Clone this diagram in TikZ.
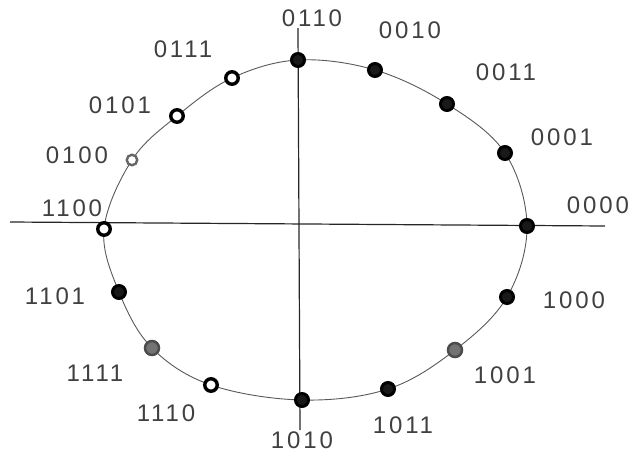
\documentclass[tikz,border=0pt]{standalone}
\usepackage{fontspec}
\setmainfont{Liberation Sans}
\begin{document}
\begin{tikzpicture}[x=1pt,y=-1pt,
  dotf/.style={circle,draw=black,line width=3pt,fill=black!90,inner sep=0pt,minimum size=13pt},
  doth/.style={circle,draw=black,line width=3.4pt,fill=white,inner sep=0pt,minimum size=12.5pt},
  dotg/.style={circle,draw=black!70,line width=2.5pt,fill=black!55,inner sep=0pt,minimum size=14pt},
  dotl/.style={circle,draw=black!60,line width=2.4pt,fill=white,inner sep=0pt,minimum size=10.5pt},
  lab/.style={font=\fontsize{24}{24}\selectfont\addfontfeatures{LetterSpace=12},text=black!75,inner sep=0pt},
  ring/.style={draw=black!65,line width=0.9pt},
  axis/.style={draw=black!85,line width=1.2pt}]
\useasboundingbox (0,0) rectangle (633,461);
% axes
\coordinate (hl) at (10,222);
\coordinate (hr) at (605,226);
\coordinate (vt) at (298,28);
\coordinate (vb) at (300,430);
\draw[axis] (hl) -- (hr);
\draw[axis] (vt) -- (vb);
% ring
\draw[ring] plot[smooth cycle,tension=0.6] coordinates {
 (298,60) (375,70) (447,104) (505,153) (527,226) (507,297) (455,350) (388,389)
 (302,400) (211,385) (152,348) (119,292) (104,229) (132,160) (177,116) (232,78)};
% dots
\node[dotf] (p0110) at (298,60) {};
\node[dotf] (p0010) at (375,70) {};
\node[dotf] (p0011) at (447,104) {};
\node[dotf] (p0001) at (505,153) {};
\node[dotf] (p0000) at (527,226) {};
\node[dotf] (p1000) at (507,297) {};
\node[dotg] (p1001) at (455,350) {};
\node[dotf] (p1011) at (388,389) {};
\node[dotf] (p1010) at (302,400) {};
\node[doth] (p1110) at (211,385) {};
\node[dotg] (p1111) at (152,348) {};
\node[dotf] (p1101) at (119,292) {};
\node[doth] (p1100) at (104,229) {};
\node[dotl] (p0100) at (132,160) {};
\node[doth] (p0101) at (177,116) {};
\node[doth] (p0111) at (232,78) {};
% labels
\node[lab] (l0110) at (312,18) {0110};
\node[lab] (l0010) at (410,30) {0010};
\node[lab] (l0011) at (506,72) {0011};
\node[lab] (l0001) at (562,137) {0001};
\node[lab] (l0000) at (598,205) {0000};
\node[lab] (l1000) at (574,300) {1000};
\node[lab] (l1001) at (505,375) {1001};
\node[lab] (l1011) at (403,425) {1011};
\node[lab] (l1010) at (302,440) {1010};
\node[lab] (l1110) at (166,413) {1110};
\node[lab] (l1111) at (95,373) {1111};
\node[lab] (l1101) at (55,296) {1101};
\node[lab] (l1100) at (72,208) {1100};
\node[lab] (l0100) at (77,155) {0100};
\node[lab] (l0101) at (120,105) {0101};
\node[lab] (l0111) at (183,49) {0111};
\end{tikzpicture}
\end{document}
